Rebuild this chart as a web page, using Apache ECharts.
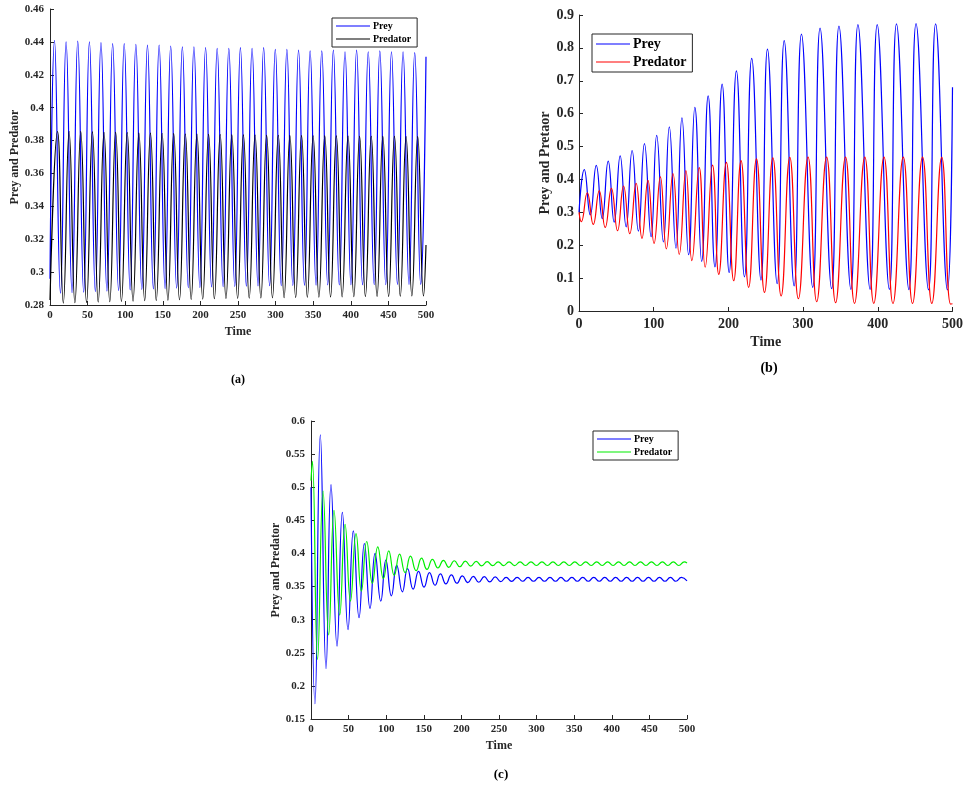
<!DOCTYPE html>
<html>
<head>
<meta charset="utf-8">
<script src="https://cdn.jsdelivr.net/npm/echarts@6/dist/echarts.min.js"></script>
<style>html,body{margin:0;padding:0;background:#fff;}#chart{width:966px;height:789px;}</style>
</head>
<body>
<div id="chart"></div>
<script>
// ---------- data (time, value) ----------
const aPrey = [[0,0.296],
[6.0,0.441],[13.9,0.2872],[21.4,0.440],[29.3,0.2875],[36.9,0.4405],[44.8,0.2878],[52.4,0.440],[60.3,0.2882],
[67.8,0.4395],[75.7,0.2885],[83.3,0.439],[91.2,0.2888],[98.7,0.439],[106.6,0.2892],[114.2,0.4385],[122.1,0.2895],
[129.6,0.438],[137.5,0.2898],[145.1,0.438],[153.0,0.290],[160.5,0.4375],[168.4,0.2903],[176.0,0.437],[183.9,0.2905],
[191.4,0.437],[199.3,0.2907],[206.9,0.4365],[214.8,0.291],[222.3,0.436],[230.2,0.2912],[237.8,0.436],[245.7,0.2913],
[253.2,0.4365],[261.1,0.2915],[268.7,0.436],[276.6,0.2916],[284.1,0.4365],[292.0,0.2917],[299.6,0.4355],[307.5,0.2918],
[315.0,0.4355],[322.9,0.2919],[330.5,0.435],[338.4,0.292],[345.9,0.4345],[353.8,0.2921],[361.4,0.4345],[369.3,0.2922],
[376.8,0.435],[384.7,0.2922],[392.3,0.434],[400.2,0.2923],[407.7,0.435],[415.6,0.2923],[423.2,0.434],[431.1,0.2924],
[438.6,0.4345],[446.5,0.2924],[454.1,0.434],[462.0,0.2925],[469.5,0.434],[477.4,0.2925],[485.0,0.4335],[492.9,0.2925],
[500,0.431]];
const aPredator = [[0,0.283],
[10.0,0.3855],[17.7,0.2812],[25.4,0.3855],[33.1,0.2814],[40.9,0.3855],[48.6,0.2816],[56.4,0.3853],[64.1,0.2818],
[71.8,0.385],[79.5,0.282],[87.3,0.385],[95.0,0.2822],[102.7,0.3848],[110.4,0.2824],[118.2,0.3845],[125.9,0.2826],
[133.6,0.3845],[141.3,0.2828],[149.1,0.3843],[156.8,0.283],[164.5,0.3842],[172.2,0.2832],[180.0,0.384],[187.7,0.2834],
[195.4,0.384],[203.1,0.2836],[210.9,0.3838],[218.6,0.2838],[226.3,0.3836],[234.0,0.284],[241.8,0.3835],[249.5,0.2841],
[257.2,0.3834],[264.9,0.2842],[272.7,0.3833],[280.4,0.2843],[288.1,0.3832],[295.8,0.2844],[303.6,0.3831],[311.3,0.2845],
[319.0,0.383],[326.7,0.2846],[334.5,0.383],[342.2,0.2847],[349.9,0.3829],[357.6,0.2848],[365.4,0.3828],[373.1,0.2849],
[380.8,0.3828],[388.5,0.285],[396.3,0.3827],[404.0,0.2851],[411.7,0.3826],[419.4,0.2852],[427.2,0.3826],[434.9,0.2853],
[442.6,0.3825],[450.3,0.2853],[458.1,0.3825],[465.8,0.2854],[473.5,0.3824],[481.2,0.2855],[489.0,0.3824],[496.7,0.2855],
[500,0.3165]];

const bPrey = [[0,0.300],[7.1,0.430],[15.1,0.292],[23.1,0.4425],[31.1,0.281],[39.1,0.4557],[47.1,0.270],[55.1,0.4718],
[63.1,0.256],[71.1,0.488],[79.5,0.243],[87.6,0.509],[96.5,0.226],[104.0,0.534],[113.0,0.210],[120.9,0.560],[129.8,0.191],
[137.8,0.587],[146.7,0.171],[155.1,0.619],[164.2,0.151],[172.9,0.654],[182.0,0.134],[191.6,0.690],[201.0,0.117],
[210.7,0.730],[221.5,0.104],[231.2,0.768],[243.6,0.094],[252.3,0.796],[265.3,0.083],[274.7,0.822],[288.0,0.076],
[297.8,0.842],[312.9,0.072],[322.7,0.860],[338.2,0.068],[348.0,0.866],[364.0,0.066],[373.4,0.871],[389.7,0.066],
[399.2,0.871],[415.5,0.066],[425.0,0.873],[441.7,0.065],[451.2,0.874],[467.9,0.064],[477.4,0.873],[493.2,0.064],[500,0.68]];
const bPredator = [[0,0.300],[3.1,0.2714],[11.1,0.3595],[19.1,0.2633],[27.1,0.3656],[35.1,0.254],[43.4,0.3726],[51.6,0.244],
[59.6,0.380],[68.0,0.235],[76.5,0.388],[84.3,0.221],[92.3,0.397],[100.5,0.2056],[108.9,0.408],[116.9,0.189],[125.8,0.418],
[134.2,0.172],[143.1,0.427],[151.1,0.153],[160.9,0.436],[168.9,0.133],[178.7,0.4435],[187.1,0.1115],[197.3,0.4516],
[207.1,0.092],[216.9,0.457],[227.1,0.072],[237.6,0.4625],[248.3,0.0567],[259.5,0.4655],[270.6,0.0456],[282.2,0.467],
[293.7,0.0375],[306.6,0.468],[318.2,0.0283],[331.5,0.468],[343.5,0.0253],[356.8,0.468],[368.8,0.0233],[382.6,0.468],
[394.6,0.0233],[408.3,0.468],[420.3,0.023],[434.1,0.468],[446.5,0.023],[459.9,0.468],[472.3,0.023],[485.6,0.467],
[497.5,0.021],[500,0.022]];

const cPrey = [[0,0.500],[5.3,0.173],[12.4,0.579],[20.0,0.226],[26.6,0.504],[34.6,0.260],[41.7,0.462],[49.2,0.285],
[56.3,0.434],[63.9,0.303],[71.0,0.415],[78.5,0.317],[85.2,0.400],[92.8,0.328],[99.6,0.390],[106.9,0.336],[114.0,0.382],
[121.5,0.342],[128.4,0.377],[135.8,0.346],[143.0,0.373],[150.3,0.349],[157.6,0.371],[164.9,0.352],[172.1,0.369],
[179.4,0.354],[186.7,0.3675],[194.0,0.355],[201.3,0.366],[208.6,0.356],[215.8,0.3655],[223.1,0.3565],[230.4,0.365],
[237.7,0.357],[245.0,0.3645],[252.3,0.3575],[259.5,0.364],[266.8,0.3578],[274.1,0.364],[281.4,0.358],[288.6,0.3638],
[295.9,0.358],[303.2,0.3638],[310.5,0.358],[317.8,0.3638],[325.1,0.358],[332.3,0.3638],[339.6,0.358],[346.9,0.3638],
[354.2,0.358],[361.4,0.3638],[368.7,0.358],[376.0,0.3638],[383.3,0.358],[390.6,0.3638],[397.9,0.358],[405.1,0.3638],
[412.4,0.358],[419.7,0.3638],[427.0,0.358],[434.2,0.3638],[441.5,0.358],[448.8,0.3638],[456.1,0.358],[463.4,0.3638],
[470.7,0.358],[477.9,0.3638],[485.2,0.358],[492.5,0.3638],[500,0.3585]];
const cPredator = [[0,0.510],[1.8,0.539],[8.7,0.240],[16.0,0.494],[23.5,0.277],[30.6,0.465],[38.2,0.307],[45.3,0.444],
[52.5,0.328],[59.9,0.430],[67.0,0.343],[74.1,0.418],[81.6,0.355],[88.8,0.410],[96.3,0.362],[103.4,0.404],[110.7,0.367],
[117.8,0.399],[125.2,0.371],[132.3,0.396],[139.8,0.374],[147.0,0.393],[154.2,0.376],[161.5,0.391],[168.8,0.378],
[176.1,0.3895],[183.3,0.379],[190.6,0.389],[197.9,0.380],[205.2,0.3885],[212.4,0.3808],[219.7,0.388],[227.0,0.3812],
[234.3,0.3876],[241.6,0.3815],[248.9,0.3874],[256.1,0.3816],[263.4,0.3873],[270.7,0.3817],[278.0,0.3872],[285.2,0.3818],
[292.5,0.3872],[299.8,0.3818],[307.1,0.3872],[314.4,0.3818],[321.7,0.3872],[328.9,0.3818],[336.2,0.3872],[343.5,0.3818],
[350.8,0.3872],[358.0,0.3818],[365.3,0.3872],[372.6,0.3818],[379.9,0.3872],[387.2,0.3818],[394.5,0.3872],[401.7,0.3818],
[409.0,0.3872],[416.3,0.3818],[423.6,0.3872],[430.8,0.3818],[438.1,0.3872],[445.4,0.3818],[452.7,0.3872],[460.0,0.3818],
[467.3,0.3872],[474.5,0.3818],[481.8,0.3872],[489.1,0.3818],[496.4,0.3872],[500,0.3855]];

const legendNames = ['Prey', 'Predator'];
const xAxisTitle = 'Time';
const yAxisTitles = ['Prey and Predator', 'Prey and Pretaor', 'Prey and Predator'];
const panelLabels = ['(a)', '(b)', '(c)'];

// ---------- styling ----------
const FONT = "'Liberation Serif', 'Times New Roman', serif";
const AX = '#262626';
const chart = echarts.init(document.getElementById('chart'), null, {renderer: 'canvas'});

function fmt(v) { return String(parseFloat(v.toFixed(2))); }

function xAx(grid, interval, fs, margin, nameGap, nfs) {
  return {
    type: 'value', gridIndex: grid, min: 0, max: 500, interval: interval,
    axisLine: {show: true, lineStyle: {color: AX, width: 1}},
    axisTick: {show: true, inside: true, length: 4, lineStyle: {color: AX, width: 1}},
    axisLabel: {fontFamily: FONT, fontWeight: 'bold', fontSize: fs, color: AX, margin: margin},
    splitLine: {show: false},
    name: xAxisTitle, nameLocation: 'middle', nameGap: nameGap,
    nameTextStyle: {fontFamily: FONT, fontWeight: 'bold', fontSize: nfs, color: AX}
  };
}
function yAx(grid, min, max, interval, fs, margin, name, nameGap, nfs) {
  return {
    type: 'value', gridIndex: grid, min: min, max: max, interval: interval,
    axisLine: {show: true, lineStyle: {color: AX, width: 1}},
    axisTick: {show: true, inside: true, length: 4, lineStyle: {color: AX, width: 1}},
    axisLabel: {fontFamily: FONT, fontWeight: 'bold', fontSize: fs, color: AX, margin: margin, formatter: fmt},
    splitLine: {show: false},
    name: name, nameLocation: 'middle', nameGap: nameGap,
    nameTextStyle: {fontFamily: FONT, fontWeight: 'bold', fontSize: nfs, color: AX}
  };
}
function line(name, xi, data, color) {
  return {
    type: 'line', name: name, xAxisIndex: xi, yAxisIndex: xi, data: data,
    smooth: 0.5, symbol: 'none', showSymbol: false, sampling: null,
    lineStyle: {width: 1.2, color: color}, itemStyle: {color: color},
    emphasis: {disabled: true}, animation: false
  };
}
function legend(p, left, top, fs, gap) {
  return {
    left: left, top: top, orient: 'vertical',
    data: legendNames.map(n => p + n),
    formatter: n => n.slice(2),
    icon: 'rect', itemWidth: 34, itemHeight: 1.2, itemGap: gap,
    padding: [3, 6, 3, 4],
    borderColor: AX, borderWidth: 1, backgroundColor: '#fff',
    selectedMode: false,
    textStyle: {fontFamily: FONT, fontWeight: 'bold', fontSize: fs, color: '#000', padding: [0, 0, 0, -2]}
  };
}

const option = {
  animation: false,
  backgroundColor: '#fff',
  grid: [
    {left: 50, top: 9, width: 376, height: 296},
    {left: 579, top: 15, width: 376, height: 296},
    {left: 311, top: 421, width: 376, height: 298}
  ],
  xAxis: [
    xAx(0, 50, 11, 5, 21, 12),
    xAx(1, 100, 14, 6, 24, 14),
    xAx(2, 50, 11, 5, 21, 12)
  ],
  yAxis: [
    yAx(0, 0.28, 0.46, 0.02, 11, 6, yAxisTitles[0], 29, 12),
    yAx(1, 0, 0.9, 0.1, 14, 5, yAxisTitles[1], 25, 14),
    yAx(2, 0.15, 0.6, 0.05, 11, 6, yAxisTitles[2], 29, 12)
  ],
  legend: [
    legend('a_', 332, 18, 10, 3),
    legend('b_', 592, 34, 14, 4),
    legend('c_', 593, 431, 10, 3)
  ],
  series: [
    line('a_Prey', 0, aPrey, '#0000ff'),
    line('a_Predator', 0, aPredator, '#000000'),
    line('b_Prey', 1, bPrey, '#0000ff'),
    line('b_Predator', 1, bPredator, '#ff0000'),
    line('c_Prey', 2, cPrey, '#0000ff'),
    line('c_Predator', 2, cPredator, '#00ee00')
  ],
  graphic: [
    {type: 'text', style: {text: panelLabels[0], x: 238, y: 380, align: 'center', verticalAlign: 'middle', fontFamily: FONT, fontWeight: 'bold', fontSize: 12, fill: '#000'}},
    {type: 'text', style: {text: panelLabels[1], x: 769, y: 368, align: 'center', verticalAlign: 'middle', fontFamily: FONT, fontWeight: 'bold', fontSize: 14, fill: '#000'}},
    {type: 'text', style: {text: panelLabels[2], x: 501, y: 775, align: 'center', verticalAlign: 'middle', fontFamily: FONT, fontWeight: 'bold', fontSize: 13, fill: '#000'}}
  ]
};
chart.setOption(option);
</script>
</body>
</html>
